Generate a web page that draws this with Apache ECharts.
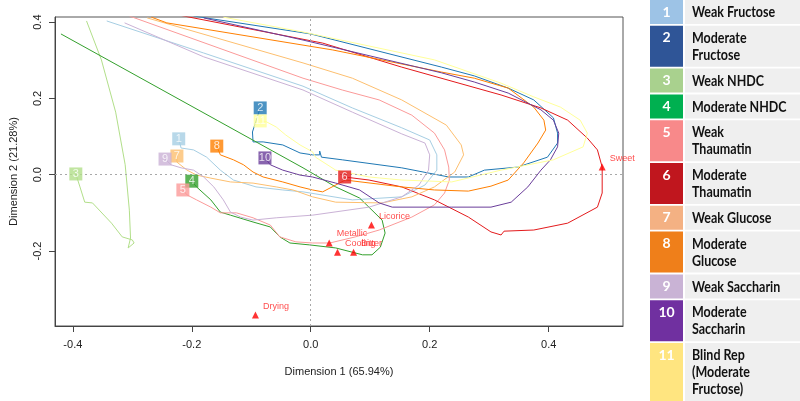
<!DOCTYPE html>
<html><head><meta charset="utf-8">
<script src="https://cdn.jsdelivr.net/npm/echarts@6/dist/echarts.min.js"></script>
<style>html,body{margin:0;padding:0;background:#fff;}#chart{width:800px;height:401px;}</style>
</head><body><div id="chart"></div>
<script>
// ---- axes ----
const xTicks = [-0.4, -0.2, 0, 0.2, 0.4];
const yTicks = [-0.2, 0, 0.2, 0.4];
const xRange = [-0.43, 0.525];
const yRange = [-0.3966, 0.4134];

// ---- products (legend) ----
const productNames = ['Weak Fructose','Moderate\nFructose','Weak NHDC','Moderate NHDC','Weak\nThaumatin','Moderate\nThaumatin','Weak Glucose','Moderate\nGlucose','Weak Saccharin','Moderate\nSaccharin','Blind Rep\n(Moderate\nFructose)'];
const legendColors = ['#9DC3E6','#2F5597','#A9D18E','#00B050','#F8898A','#C0161E','#F4B183','#EF7F1A','#C9B3D5','#7030A0','#FFE580'];
const lineColors = ['#A6CEE3','#1F78B4','#B2DF8A','#33A02C','#FB9A99','#E31A1C','#FDBF6F','#FF7F00','#CAB2D6','#6A3D9A','#FFFF99'];

// ---- trajectories (first point = product start square) ----
const path1 = [[-0.222,0.094],[-0.218,0.070],[-0.197,0.065],[-0.175,0.046],[-0.152,0.012],[-0.130,-0.014],[-0.092,-0.032],[-0.047,-0.040],[-0.013,-0.045],[0.070,-0.066],[0.153,-0.058],[0.192,-0.027],[0.212,0.012],[0.212,0.052],[0.200,0.091],[0.153,0.123],[0.070,0.175],[-0.013,0.232],[-0.180,0.319],[-0.343,0.403]];
const path2 = [[-0.085,0.175],[-0.098,0.112],[-0.097,0.086],[-0.080,0.086],[-0.047,0.078],[-0.018,0.057],[0.003,0.052],[0.015,0.052],[0.015,0.062],[0.018,0.046],[0.053,0.039],[0.153,0.018],[0.232,-0.006],[0.265,-0.006],[0.292,0.012],[0.348,0.020],[0.398,0.046],[0.415,0.083],[0.415,0.109],[0.408,0.149],[0.375,0.196],[0.332,0.227],[0.275,0.259],[0.220,0.282],[0.000,0.369],[-0.197,0.416]];
const path3 = [[-0.395,0.002],[-0.388,-0.032],[-0.380,-0.072],[-0.367,-0.074],[-0.335,-0.127],[-0.317,-0.163],[-0.300,-0.171],[-0.297,-0.179],[-0.307,-0.192],[-0.310,-0.187],[-0.303,-0.166],[-0.305,-0.093],[-0.312,0.026],[-0.328,0.164],[-0.352,0.301],[-0.377,0.403]];
const path4 = [[-0.200,-0.017],[-0.192,-0.032],[-0.168,-0.066],[-0.152,-0.098],[-0.135,-0.106],[-0.097,-0.124],[-0.068,-0.137],[-0.052,-0.163],[-0.035,-0.179],[-0.002,-0.184],[0.042,-0.192],[0.087,-0.210],[0.103,-0.210],[0.117,-0.190],[0.125,-0.153],[0.120,-0.119],[0.103,-0.093],[0.082,-0.061],[0.042,-0.032],[-0.013,0.018],[-0.420,0.369]];
const path5 = [[-0.215,-0.040],[-0.208,-0.053],[-0.192,-0.066],[-0.168,-0.085],[-0.152,-0.100],[-0.125,-0.100],[-0.097,-0.113],[-0.068,-0.132],[-0.052,-0.163],[-0.025,-0.176],[0.003,-0.179],[0.032,-0.179],[0.075,-0.163],[0.115,-0.145],[0.170,-0.111],[0.208,-0.079],[0.225,-0.048],[0.233,-0.014],[0.232,0.020],[0.225,0.065],[0.208,0.109],[0.170,0.156],[0.115,0.196],[0.053,0.222],[-0.013,0.253],[-0.305,0.416]];
const path6 = [[0.057,-0.006],[0.098,-0.014],[0.153,-0.032],[0.208,-0.066],[0.265,-0.111],[0.303,-0.150],[0.320,-0.158],[0.325,-0.148],[0.375,-0.145],[0.432,-0.127],[0.482,-0.085],[0.490,-0.048],[0.490,0.020],[0.482,0.065],[0.465,0.096],[0.432,0.143],[0.387,0.175],[0.320,0.209],[0.153,0.282],[0.020,0.345],[-0.230,0.421]];
const path7 = [[-0.225,0.049],[-0.225,0.033],[-0.208,0.012],[-0.192,-0.001],[-0.168,-0.009],[-0.135,-0.019],[-0.097,-0.022],[-0.058,-0.032],[-0.030,-0.040],[0.003,-0.058],[0.042,-0.072],[0.120,-0.074],[0.170,-0.058],[0.208,-0.032],[0.242,0.007],[0.257,0.052],[0.253,0.078],[0.228,0.130],[0.153,0.196],[0.070,0.253],[-0.013,0.293],[-0.275,0.411]];
const path8 = [[-0.158,0.075],[-0.152,0.052],[-0.130,0.039],[-0.113,0.026],[-0.097,0.007],[-0.080,-0.006],[-0.047,-0.019],[-0.018,-0.032],[0.003,-0.040],[0.020,-0.045],[0.058,-0.014],[0.153,-0.032],[0.208,-0.040],[0.265,-0.043],[0.303,-0.030],[0.332,-0.014],[0.358,0.031],[0.382,0.083],[0.395,0.117],[0.392,0.143],[0.375,0.177],[0.332,0.227],[0.275,0.253],[0.220,0.269],[0.037,0.327],[-0.242,0.398],[-0.268,0.413]];
const path9 = [[-0.245,0.041],[-0.235,0.026],[-0.218,0.018],[-0.197,0.012],[-0.180,-0.006],[-0.163,-0.032],[-0.147,-0.066],[-0.135,-0.098],[-0.118,-0.111],[-0.097,-0.119],[-0.058,-0.113],[0.003,-0.106],[0.098,-0.085],[0.153,-0.058],[0.182,-0.027],[0.198,0.012],[0.200,0.052],[0.192,0.083],[0.153,0.107],[0.070,0.164],[-0.013,0.222],[-0.180,0.309],[-0.313,0.398]];
const path10 = [[-0.077,0.044],[-0.068,0.026],[-0.047,0.012],[-0.018,-0.001],[0.003,-0.006],[0.042,-0.022],[0.082,-0.040],[0.115,-0.074],[0.137,-0.085],[0.237,-0.085],[0.303,-0.085],[0.337,-0.072],[0.365,-0.032],[0.387,0.012],[0.403,0.039],[0.415,0.073],[0.417,0.109],[0.408,0.143],[0.387,0.170],[0.332,0.214],[0.275,0.243],[0.220,0.267],[-0.013,0.353],[-0.180,0.411]];
const path11 = [[-0.085,0.141],[-0.075,0.139],[-0.058,0.125],[-0.042,0.104],[-0.018,0.078],[0.003,0.060],[0.008,0.046],[0.042,0.012],[0.098,-0.006],[0.153,-0.014],[0.237,-0.019],[0.320,0.012],[0.408,0.039],[0.458,0.073],[0.465,0.109],[0.453,0.143],[0.420,0.177],[0.375,0.204],[0.320,0.240],[0.208,0.301],[-0.013,0.374],[-0.147,0.413]];
const paths = [path1,path2,path3,path4,path5,path6,path7,path8,path9,path10,path11];

// ---- attributes (red triangles) ----
const attrNames = ['Sweet','Licorice','Metallic','Cooling','Bitter','Drying'];
const attrX = [0.490, 0.102, 0.031, 0.045, 0.072, -0.093];
const attrY = [0.020, -0.132, -0.179, -0.203, -0.203, -0.368];

const chart = echarts.init(document.getElementById('chart'), null, {renderer:'canvas'});
const axisFont = 'Liberation Sans, Arial, sans-serif';

const series = [];
paths.forEach((p, i) => {
  const s = {
    type:'line', data:p, symbol:'none', showSymbol:false, silent:true, clip:true,
    lineStyle:{color:lineColors[i], width:1}, z:2, animation:false
  };
  if (i === 0) {
    s.markLine = {
      silent:true, symbol:['none','none'], label:{show:false}, animation:false,
      lineStyle:{color:'#a8a8a8', type:[2,3], width:1},
      data:[{xAxis:0},{yAxis:0}]
    };
  }
  series.push(s);
});
series.push({
  type:'scatter', symbol:'rect', symbolSize:13, z:5, animation:false,
  data: paths.map((p, i) => ({value:p[0], itemStyle:{color:lineColors[i]}})),
  label:{show:true, position:'inside', formatter: (d) => String(d.dataIndex + 1),
         color:'#fff', fontSize:11, fontFamily:axisFont}
});
series.push({
  type:'scatter', symbol:'triangle', symbolSize:7, z:6, animation:false,
  itemStyle:{color:'#ff0000'},
  data: attrNames.map((n, i) => ({name:n, value:[attrX[i], attrY[i]]})),
  label:{show:true, position:'right', formatter:'{b}', color:'#ff2020', fontSize:9,
         fontFamily:axisFont, offset:[-1,-9]}
});

// ---- legend panel ----
const graphics = [];
let yPos = 0;
const gap = 1.8;
productNames.forEach((name, i) => {
  const lines = name.split('\n').length;
  const h = 7 + 17 * lines;
  graphics.push({type:'rect', shape:{x:650, y:yPos, width:33, height:h}, style:{fill:legendColors[i]}, silent:true});
  graphics.push({type:'rect', shape:{x:685, y:yPos, width:115, height:h}, style:{fill:'#efefef'}, silent:true});
  graphics.push({type:'text', x:666.5, y:yPos + 5, silent:true,
    style:{text:String(i + 1), fill:'#ffffff', font:'bold 14px Lato, "Open Sans", sans-serif', textAlign:'center', textVerticalAlign:'top'}});
  graphics.push({type:'text', x:692, y:yPos + 4, scaleX:0.86, silent:true,
    style:{text:name, fill:'#111', font:'bold 14.5px Lato, "Open Sans", sans-serif', lineHeight:17, textAlign:'left', textVerticalAlign:'top'}});
  yPos += h + gap;
});

chart.setOption({
  animation:false,
  backgroundColor:'#fff',
  grid:{left:50, right:177, top:17, bottom:75, show:true, borderColor:'#555', borderWidth:1, containLabel:false},
  xAxis:{
    type:'value', min:xRange[0], max:xRange[1],
    name:'Dimension 1 (65.94%)', nameLocation:'middle', nameGap:40,
    nameTextStyle:{fontSize:11, color:'#222', fontFamily:axisFont},
    axisLine:{show:true, onZero:false, lineStyle:{color:'#444', width:1}},
    axisTick:{show:true, customValues:xTicks, length:6, lineStyle:{color:'#444'}},
    axisLabel:{customValues:xTicks, formatter:(v) => v.toFixed(1), fontSize:11, color:'#222', margin:13, fontFamily:axisFont},
    splitLine:{show:false}
  },
  yAxis:{
    type:'value', min:yRange[0], max:yRange[1],
    name:'Dimension 2 (21.28%)', nameLocation:'middle', nameGap:36,
    nameTextStyle:{fontSize:11, color:'#222', fontFamily:axisFont},
    axisLine:{show:true, onZero:false, lineStyle:{color:'#444', width:1}},
    axisTick:{show:true, customValues:yTicks, length:6, lineStyle:{color:'#444'}},
    axisLabel:{customValues:yTicks, formatter:(v) => v.toFixed(1), fontSize:11, color:'#222', margin:12, rotate:90, fontFamily:axisFont},
    splitLine:{show:false}
  },
  series: series,
  graphic: graphics
});
</script>
</body></html>
